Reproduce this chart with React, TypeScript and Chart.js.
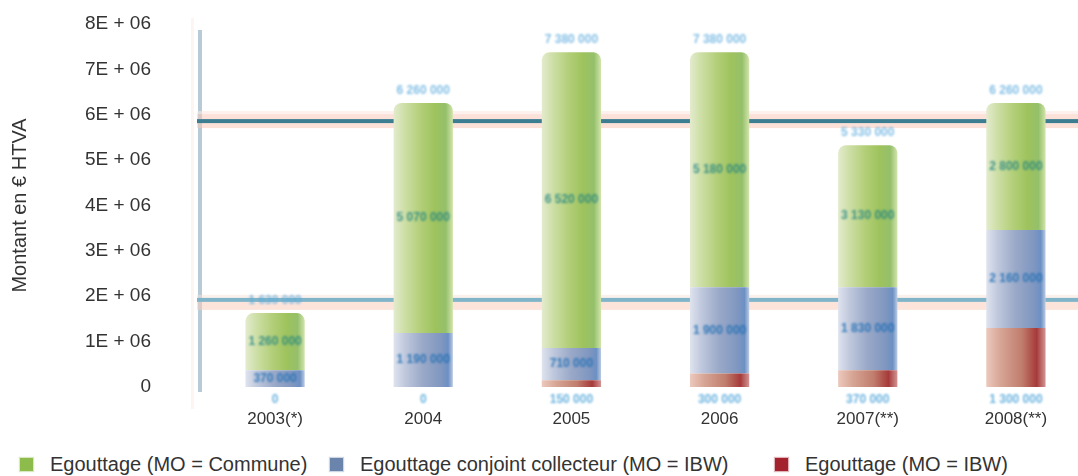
import React, { useEffect, useRef } from 'react';
import { Chart, registerables } from 'chart.js';

Chart.register(...registerables);

const categories = ['2003(*)', '2004', '2005', '2006', '2007(**)', '2008(**)'];
const communeValues = [1260000, 5070000, 6520000, 5180000, 3130000, 2800000];
const collecteurValues = [370000, 1190000, 710000, 1900000, 1830000, 2160000];
const ibwValues = [0, 0, 150000, 300000, 370000, 1300000];
const referenceLines = [5860000, 1920000];
const yTickLabels = ['0', '1E + 06', '2E + 06', '3E + 06', '4E + 06', '5E + 06', '6E + 06', '7E + 06', '8E + 06'];
const seriesNames = ['Egouttage (MO = Commune)', 'Egouttage conjoint collecteur (MO = IBW)', 'Egouttage (MO = IBW)'];
const seriesColors = ['#8dbb4c', '#6a84ab', '#a3222e'];

const FONT = '"Liberation Sans", Arial, sans-serif';
const BAR_PCT = 0.4;

const fmt = (v: number) => Math.round(v).toString().replace(/\B(?=(\d{3})+(?!\d))/g, ' ');

function gradientFill(stops: [number, string][], flat: string) {
  return (ctx: any) => {
    const chart = ctx.chart;
    const area = chart.chartArea;
    if (ctx.type !== 'data' || !area || !chart.scales || !chart.scales.x) return flat;
    const x = chart.scales.x.getPixelForValue(ctx.dataIndex);
    const half = ((area.right - area.left) / categories.length) * BAR_PCT / 2;
    const g = chart.ctx.createLinearGradient(x - half, 0, x + half, 0);
    stops.forEach(([o, c]) => g.addColorStop(o, c));
    return g;
  };
}

const decorPlugin = {
  id: 'decor',
  beforeDatasetsDraw(chart: any) {
    const c = chart.ctx;
    const area = chart.chartArea;
    const ys = chart.scales.y;
    const top = ys.getPixelForValue(8e6);
    c.save();
    // faint frame on the left
    c.fillStyle = 'rgba(250,225,215,0.35)';
    c.fillRect(area.left - 10, top - 6, 3, area.bottom - top + 28);
    // vertical axis bar
    c.fillStyle = '#b7cbd7';
    c.fillRect(area.left - 3, top + 6, 4, area.bottom - top - 1);
    // reference lines
    referenceLines.forEach((v, i) => {
      const py = ys.getPixelForValue(v);
      const x0 = area.left - 4;
      const w = area.right - x0;
      if (i === 0) {
        c.fillStyle = 'rgba(250,200,185,0.55)';
        c.fillRect(x0, py - 7, w, 14);
        c.fillStyle = 'rgba(253,232,225,0.6)';
        c.fillRect(x0, py - 10, w, 3);
        c.fillStyle = '#3b7e91';
        c.fillRect(x0, py - 2, w, 4);
      } else {
        c.fillStyle = 'rgba(250,205,190,0.55)';
        c.fillRect(x0, py + 1, w, 9);
        c.fillStyle = 'rgba(250,225,215,0.5)';
        c.fillRect(x0, py - 5, w, 3);
        c.fillStyle = '#80b5c9';
        c.fillRect(x0, py - 2, w, 4);
      }
    });
    c.restore();
  },
};

const labelPlugin = {
  id: 'valueLabels',
  afterDatasetsDraw(chart: any) {
    const c = chart.ctx;
    const metas = [0, 1, 2].map((i) => chart.getDatasetMeta(i));
    c.save();
    c.filter = 'blur(0.9px)';
    c.font = `bold 12px ${FONT}`;
    c.textAlign = 'center';
    c.textBaseline = 'middle';
    categories.forEach((_, i) => {
      const red = metas[0].data[i];
      const blue = metas[1].data[i];
      const green = metas[2].data[i];
      const total = ibwValues[i] + collecteurValues[i] + communeValues[i];
      c.fillStyle = 'rgba(70,160,215,0.8)';
      c.fillText(fmt(ibwValues[i]), red.x, red.base + 13);
      c.fillStyle = 'rgba(30,110,180,0.85)';
      c.fillText(fmt(collecteurValues[i]), blue.x, (blue.y + blue.base) / 2);
      c.fillStyle = 'rgba(30,130,130,0.8)';
      c.fillText(fmt(communeValues[i]), green.x, (green.y + green.base) / 2);
      c.fillStyle = 'rgba(90,170,220,0.75)';
      c.fillText(fmt(total), green.x, green.y - 12);
    });
    c.restore();
  },
};

export default function App() {
  const canvasRef = useRef<HTMLCanvasElement | null>(null);

  useEffect(() => {
    if (!canvasRef.current) return;
    const chart = new Chart(canvasRef.current, {
      type: 'bar',
      data: {
        labels: categories,
        datasets: [
          {
            label: seriesNames[2],
            data: ibwValues,
            backgroundColor: gradientFill(
              [[0, '#ecc9bd'], [0.25, '#d6a494'], [0.6, '#c07d6d'], [0.85, '#a63a3a'], [1, '#d29494']],
              seriesColors[2]
            ),
            borderWidth: 0,
            barPercentage: BAR_PCT,
            categoryPercentage: 1,
          },
          {
            label: seriesNames[1],
            data: collecteurValues,
            backgroundColor: gradientFill(
              [[0, '#dfe3ee'], [0.2, '#bec7dc'], [0.5, '#99a8c8'], [0.8, '#8097c0'], [0.92, '#6c90c4'], [1, '#bccbe2']],
              seriesColors[1]
            ),
            borderWidth: 0,
            barPercentage: BAR_PCT,
            categoryPercentage: 1,
          },
          {
            label: seriesNames[0],
            data: communeValues,
            backgroundColor: gradientFill(
              [[0, '#e3ebcd'], [0.18, '#cedfa7'], [0.45, '#b3cf79'], [0.7, '#9ec35d'], [0.88, '#95c06b'], [1, '#d2e4ab']],
              seriesColors[0]
            ),
            borderWidth: 0,
            borderRadius: { topLeft: 8, topRight: 8, bottomLeft: 0, bottomRight: 0 },
            borderSkipped: false,
            barPercentage: BAR_PCT,
            categoryPercentage: 1,
          },
        ],
      },
      options: {
        animation: false,
        responsive: true,
        maintainAspectRatio: false,
        layout: { padding: { top: 24, right: 10, left: 0, bottom: 0 } },
        plugins: {
          legend: { display: false },
          tooltip: { enabled: false },
        },
        scales: {
          x: {
            stacked: true,
            grid: { display: false, drawTicks: false },
            border: { display: false },
            ticks: { color: '#333', padding: 22, font: { family: FONT, size: 17 } },
            afterFit: (s: any) => {
              s.height = 53;
              s.paddingLeft = 0;
              s.paddingRight = 0;
            },
          },
          y: {
            stacked: true,
            min: 0,
            max: 8e6,
            grid: { display: false, drawTicks: false },
            border: { display: false },
            ticks: {
              stepSize: 1e6,
              padding: 50,
              color: '#333',
              font: { family: FONT, size: 19 },
              callback: (_v: any, i: number) => yTickLabels[i],
            },
            title: {
              display: true,
              text: 'Montant en € HTVA',
              color: '#333',
              font: { family: FONT, size: 20 },
              padding: { top: 8, bottom: 0 },
            },
            afterFit: (s: any) => {
              s.width = 201;
              s.paddingTop = 0;
              s.paddingBottom = 0;
            },
          },
        },
      },
      plugins: [decorPlugin, labelPlugin],
    });
    return () => chart.destroy();
  }, []);

  const legendLeft = [20, 330, 775];

  return (
    <div style={{ position: 'absolute', left: 0, top: 0, width: 1078, height: 476, overflow: 'hidden', background: '#fff', fontFamily: FONT }}>
      <div style={{ position: 'absolute', left: 0, top: 0, width: 1100, height: 440 }}>
        <canvas ref={canvasRef} />
      </div>
      {seriesNames.map((name, i) => (
        <div
          key={name}
          style={{ position: 'absolute', left: legendLeft[i], top: 453, height: 23, display: 'flex', alignItems: 'center', color: '#333', fontSize: 20, whiteSpace: 'nowrap' }}
        >
          <span style={{ display: 'inline-block', width: 13, height: 13, background: seriesColors[i], marginRight: 17, boxShadow: `0 0 1px 1px ${seriesColors[i]}55` }} />
          <span>{name}</span>
        </div>
      ))}
    </div>
  );
}
